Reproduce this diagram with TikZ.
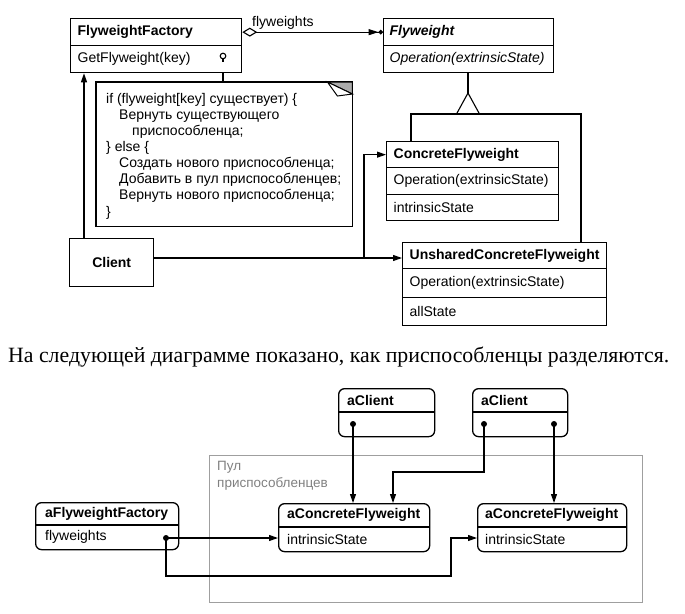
\documentclass[tikz,border=0pt]{standalone}
\usepackage{fontspec}
\setmainfont{Liberation Serif}
\setsansfont{Liberation Sans}
\usetikzlibrary{arrows.meta}
\begin{document}
\begin{tikzpicture}[x=1pt,y=-1pt,
  fs/.style={font=\sffamily\fontsize{14}{16}\selectfont},
  bfs/.style={font=\sffamily\bfseries\fontsize{14}{16}\selectfont},
  comp/.style={draw, line width=1.3pt, anchor=north west, inner xsep=7pt, inner ysep=0pt, align=left, fs},
  lbl/.style={anchor=west, inner sep=0pt, fs},
  blbl/.style={anchor=west, inner sep=0pt, bfs},
  arr/.style={line width=1.1pt, -{Triangle[length=9pt,width=6pt]}},
  obj/.style={draw, line width=1.3pt, rounded corners=6pt, anchor=north west, inner sep=0pt},
  dot/.style={circle, fill, inner sep=0pt, minimum size=6pt},
  ln/.style={line width=1.1pt},
]
\useasboundingbox (0,0) rectangle (685,613);

% ---------- class diagram ----------
\node[comp, text width=157pt, minimum height=27pt] (ffh) at (70,18) {\bfseries FlyweightFactory};
\node[comp, text width=157pt, minimum height=27pt] (ffm) at (70,45) {GetFlyweight(key)};
\node[comp, inner xsep=6pt, text width=158pt, minimum height=27pt] (fwh) at (383,18) {\bfseries\itshape Flyweight};
\node[comp, inner xsep=6pt, text width=158pt, minimum height=27pt] (fwm) at (383,45) {\itshape Operation(extrinsicState)};
\node[comp, text width=158pt, minimum height=26pt] (cfh) at (386,141) {\bfseries ConcreteFlyweight};
\node[comp, text width=158pt, minimum height=27pt] (cfm) at (386,167) {Operation(extrinsicState)};
\node[comp, text width=158pt, minimum height=26pt] (cfs) at (386,194) {intrinsicState};
\node[comp, inner xsep=7pt, text width=190pt, minimum height=26pt] (ush) at (402,242) {\bfseries UnsharedConcreteFlyweight};
\node[comp, inner xsep=7pt, text width=190pt, minimum height=29pt] (usm) at (402,268) {Operation(extrinsicState)};
\node[comp, inner xsep=7pt, text width=190pt, minimum height=28pt] (uss) at (402,297) {allState};
\node[draw, line width=1.4pt, anchor=north west, minimum width=84pt, minimum height=48pt, inner sep=0pt, bfs] (cl) at (69,238) {Client};

% lollipop
\coordinate (lp) at (223,56);
\draw[ln] (lp) circle (2.8pt);
\draw[ln] (223,58.8) -- (223,62);

% note
\node[anchor=north west, minimum width=256pt, minimum height=144pt, inner sep=0pt] (note) at (96,82) {};
\draw[line width=1.3pt] (note.north west) -- (note.north east) -- (note.south east) -- (note.south west) -- cycle;
\filldraw[fill=gray!65, line width=1pt] ([xshift=-25pt]note.north east) -- (note.north east) -- ([yshift=-12pt]note.north east) -- cycle;
\filldraw[fill=white, line width=1pt] ([xshift=-25pt]note.north east) -- ([xshift=-15pt,yshift=-14pt]note.north east) -- ([yshift=-12pt]note.north east) -- cycle;
\node[anchor=north west, align=left, inner sep=0pt, font=\sffamily\fontsize{14}{16.1}\selectfont] (notet) at (106,93)
 {if (flyweight[key] существует) \{\\
  \hspace*{13pt}Вернуть существующего\\
  \hspace*{26pt}приспособленца;\\
  \} else \{\\
  \hspace*{13pt}Создать нового приспособленца;\\
  \hspace*{13pt}Добавить в пул приспособленцев;\\
  \hspace*{13pt}Вернуть нового приспособленца;\\
  \}};
\draw[ln] (ffm.south -| lp) -- (note.north -| lp);

% association
\draw[ln, {Diamond[open,length=15pt,width=9pt]}-{Triangle[length=10pt,width=6pt] Circle[length=4.5pt]}] (ffh.east) -- (fwh.west);
\node[anchor=base west, inner sep=0pt, fs] (flyl) at (252,27) {flyweights};

% inheritance
\coordinate (tri) at (468,93);
\coordinate (tb) at (468,114);
\draw[ln] (fwm.south -| tri) -- (tri);
\draw[ln] (tri) -- (456.5,114) -- (479.5,114) -- cycle;
\draw[ln] ([xshift=25pt]cfh.north west) |- (tb) -| ([xshift=179pt]ush.north west);

% client links
\draw[arr] ([xshift=15pt]cl.north west) -- ([xshift=14pt]ffm.south west);
\coordinate (yc) at (0,258);
\coordinate (jn) at (364,258);
\draw[arr] (cl.east |- yc) -- (ush.west |- yc);
\draw[arr] (jn) |- (cfh.west);

% ---------- caption ----------
\node[anchor=base west, inner sep=0pt, font=\rmfamily\fontsize{21.8}{24}\selectfont] (cap) at (8,362) {На следующей диаграмме показано, как приспособленцы разделяются.};

% ---------- object diagram ----------
\node[draw=gray!75, line width=1.2pt, anchor=north west, minimum width=433pt, minimum height=147pt, inner sep=0pt] (pool) at (209,455) {};
\node[anchor=north west, align=left, inner sep=0pt, text=gray, font=\sffamily\fontsize{13.5}{17}\selectfont] (pooll) at (217,461) {Пул\\приспособленцев};

\node[obj, minimum width=143pt, minimum height=47pt] (aff) at (35,502) {};
\draw[ln] (aff.west |- 0,525) -- (aff.east |- 0,525);
\node[blbl] (affh) at (45,513.5) {aFlyweightFactory};
\node[lbl] (affb) at (45,537) {flyweights};

\node[obj, minimum width=151pt, minimum height=48pt] (cf1) at (278,503) {};
\draw[ln] (cf1.west |- 0,527) -- (cf1.east |- 0,527);
\node[blbl] (cf1h) at (287,515) {aConcreteFlyweight};
\node[lbl] (cf1b) at (287,539) {intrinsicState};

\node[obj, minimum width=149pt, minimum height=48pt] (cf2) at (477,503) {};
\draw[ln] (cf2.west |- 0,527) -- (cf2.east |- 0,527);
\node[blbl] (cf2h) at (485,515) {aConcreteFlyweight};
\node[lbl] (cf2b) at (485,539) {intrinsicState};

\node[obj, minimum width=96pt, minimum height=48pt] (ac1) at (338,388) {};
\draw[ln] (ac1.west |- 0,412) -- (ac1.east |- 0,412);
\node[blbl] (ac1h) at (347,400) {aClient};

\node[obj, minimum width=95pt, minimum height=48pt] (ac2) at (472,388) {};
\draw[ln] (ac2.west |- 0,412) -- (ac2.east |- 0,412);
\node[blbl] (ac2h) at (481,400) {aClient};

\node[dot] (d0) at (166,538) {};
\node[dot] (d1) at (353,424) {};
\node[dot] (d2) at (484,424) {};
\node[dot] (d3) at (554,424) {};
\coordinate (k1) at (451,576);
\coordinate (k2) at (393,472);

\draw[arr] (d0.center) -- (cf1.west |- d0);
\draw[arr] (d0.center) |- (k1) |- (cf2.west |- d0);
\draw[arr] (d1.center) -- (d1 |- cf1.north);
\draw[arr] (d2.center) |- (k2) -- (k2 |- cf1.north);
\draw[arr] (d3.center) -- (d3 |- cf2.north);
\end{tikzpicture}
\end{document}
